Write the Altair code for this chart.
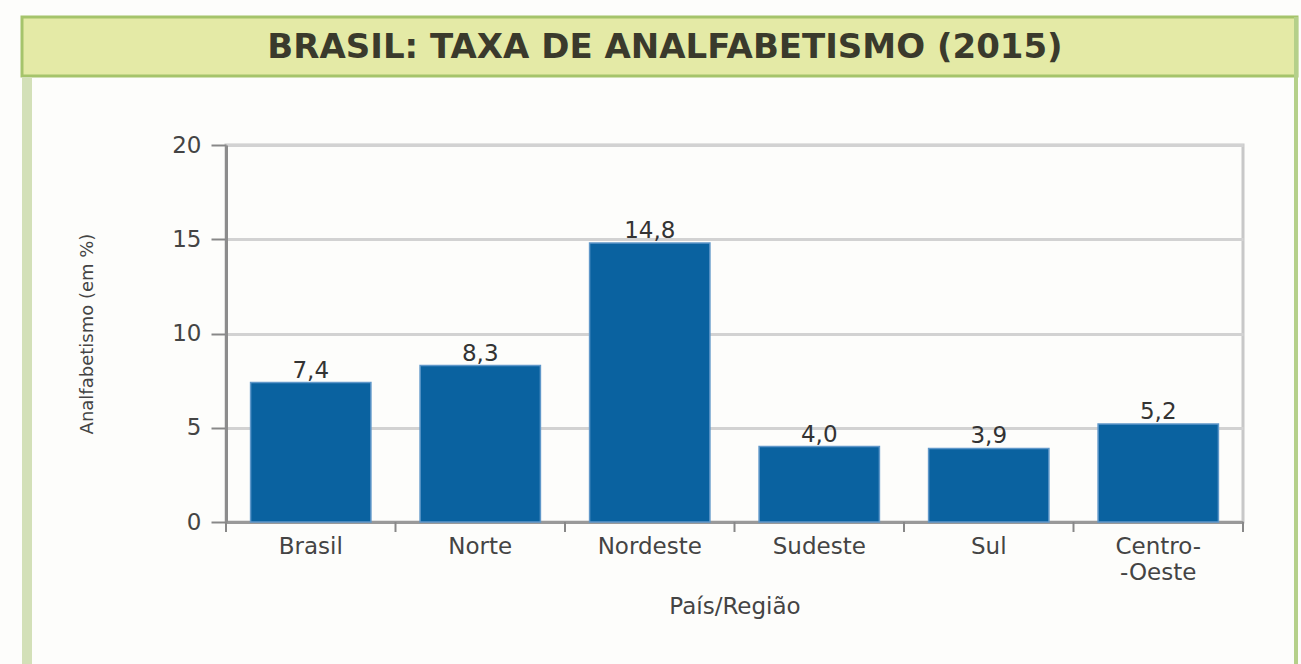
import altair as alt
import pandas as pd

# Data
regioes = ["Brasil", "Norte", "Nordeste", "Sudeste", "Sul", "Centro-Oeste"]
taxas = [7.4, 8.3, 14.8, 4.0, 3.9, 5.2]
y_ticks = [0, 5, 10, 15, 20]
titulo = "BRASIL: TAXA DE ANALFABETISMO (2015)"

df = pd.DataFrame({"regiao": regioes, "taxa": taxas})
df["rotulo"] = [f"{v:.1f}".replace(".", ",") for v in taxas]
df_last = df.iloc[[-1]]
one = pd.DataFrame({"a": [0]})

W, H = 1017, 377
L, T = 226, 145
P_IN = 0.29
STEP = W / len(regioes)
HALF_GAP = P_IN * STEP / 2

FONT = "DejaVu Sans"

x_enc = alt.X(
    "regiao:N",
    sort=regioes,
    scale=alt.Scale(paddingInner=P_IN, paddingOuter=P_IN / 2),
    axis=alt.Axis(
        title="País/Região",
        labelAngle=0,
        tickSize=10,
        tickOpacity=0,
        domainColor="#999999",
        domainWidth=3,
        labelPadding=3,
        labelFont=FONT,
        labelFontSize=23,
        labelColor="#444444",
        labelLineHeight=26,
        labelBaseline="top",
        labelExpr="datum.label == 'Centro-Oeste' ? ['Centro-', '-Oeste'] : datum.label",
        titleFont=FONT,
        titleFontSize=23,
        titleFontWeight="normal",
        titleColor="#444444",
        titleY=84,
        titleBaseline="middle",
    ),
)

y_enc = alt.Y(
    "taxa:Q",
    scale=alt.Scale(domain=[0, 20], nice=False),
    axis=alt.Axis(
        title="Analfabetismo (em %)",
        values=y_ticks,
        tickSize=15,
        tickColor="#888888",
        tickWidth=2,
        domainColor="#8c8c8c",
        domainWidth=3,
        grid=True,
        gridColor="#d2d2d2",
        gridWidth=3,
        labelPadding=10,
        labelFont=FONT,
        labelFontSize=23,
        labelColor="#444444",
        titleFont=FONT,
        titleFontSize=18,
        titleFontWeight="normal",
        titleColor="#444444",
        titleX=87 - L,
        titleY=H / 2,
        titleAlign="center",
        titleBaseline="middle",
        titleAngle=-90,
    ),
)

band = alt.Chart(one).mark_rect(fill="#e4eaa6", stroke="#a5c46b", strokeWidth=3).encode(
    x=alt.value(22 - L), x2=alt.value(1297 - L), y=alt.value(17 - T), y2=alt.value(76 - T)
)
left_line = alt.Chart(one).mark_rect(fill="#d3e0b8").encode(
    x=alt.value(22 - L), x2=alt.value(32 - L), y=alt.value(77 - T), y2=alt.value(664 - T)
)
right_line = alt.Chart(one).mark_rect(fill="#b5d08a").encode(
    x=alt.value(1294 - L), x2=alt.value(1298 - L), y=alt.value(17 - T), y2=alt.value(664 - T)
)
title_text = alt.Chart(one).mark_text(
    text=titulo, font=FONT, fontSize=34, fontWeight="bold", color="#3a3a2c",
    align="center", baseline="middle"
).encode(x=alt.value(665 - L), y=alt.value(48 - T))

bars = alt.Chart(df).mark_bar(color="#0a62a0", stroke="#5f97c9", strokeWidth=1.5).encode(
    x=x_enc, y=y_enc
)
labels = alt.Chart(df).mark_text(
    font=FONT, fontSize=23, color="#333333", baseline="alphabetic", dy=-5
).encode(x=alt.X("regiao:N", sort=regioes), y="taxa:Q", text="rotulo:N")

# x-axis ticks between bands
ticks_start = alt.Chart(df).mark_rule(color="#888888", strokeWidth=2, xOffset=-HALF_GAP).encode(
    x=alt.X("regiao:N", sort=regioes, bandPosition=0),
    y=alt.value(H), y2=alt.value(H + 10)
)
ticks_end = alt.Chart(df_last).mark_rule(color="#888888", strokeWidth=2, xOffset=HALF_GAP).encode(
    x=alt.X("regiao:N", sort=regioes, bandPosition=1),
    y=alt.value(H), y2=alt.value(H + 10)
)

chart = alt.layer(band, left_line, right_line, title_text, bars, labels, ticks_start, ticks_end).properties(
    width=W,
    height=H,
    padding={"left": L, "top": T, "right": 1301 - L - W, "bottom": 664 - T - H},
    autosize=alt.AutoSizeParams(type="none"),
    background="#fdfdfb",
).configure_view(stroke="#c8c8c8", strokeWidth=3)

chart.save("out.html", embed_options={"renderer": "svg", "actions": False})
